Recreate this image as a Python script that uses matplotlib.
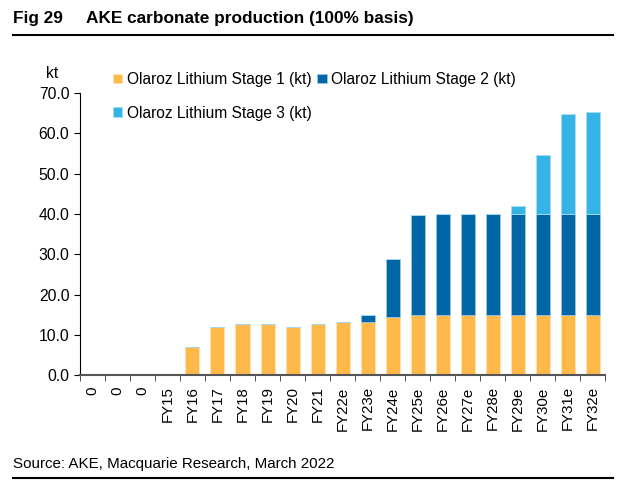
import matplotlib
matplotlib.use("Agg")
import matplotlib.pyplot as plt
from matplotlib.lines import Line2D

plt.rcParams['font.family'] = ['Liberation Sans', 'DejaVu Sans']

categories = ['0', '0', '0', 'FY15', 'FY16', 'FY17', 'FY18', 'FY19', 'FY20',
              'FY21', 'FY22e', 'FY23e', 'FY24e', 'FY25e', 'FY26e', 'FY27e',
              'FY28e', 'FY29e', 'FY30e', 'FY31e', 'FY32e']
stage1 = [0, 0, 0, 0.3, 6.9, 11.9, 12.6, 12.8, 11.9, 12.8, 13.3, 13.1, 14.4,
          15.0, 15.0, 15.0, 15.0, 15.0, 15.0, 15.0, 15.0]
stage2 = [0, 0, 0, 0, 0, 0, 0, 0, 0, 0, 0, 1.7, 14.5,
          24.8, 25.0, 25.0, 25.0, 25.0, 25.0, 25.0, 25.0]
stage3 = [0, 0, 0, 0, 0, 0, 0, 0, 0, 0, 0, 0, 0,
          0, 0, 0, 0, 1.9, 14.6, 24.8, 25.2]
series_names = ['Olaroz Lithium Stage 1 (kt)', 'Olaroz Lithium Stage 2 (kt)',
                'Olaroz Lithium Stage 3 (kt)']
colors = ['#FFB84A', '#0066A6', '#36B3E6']

fig = plt.figure(figsize=(6.24, 4.86), dpi=100)
ax = fig.add_axes([0.128, 0.228, 0.842, 0.581])

x = list(range(len(categories)))
w = 0.56
b1 = ax.bar(x, stage1, w, color=colors[0], edgecolor='#FFE3B5', linewidth=0.6)
b2 = ax.bar(x, stage2, w, bottom=stage1, color=colors[1], edgecolor='#9CC6E6', linewidth=0.6)
base3 = [a + b for a, b in zip(stage1, stage2)]
b3 = ax.bar(x, stage3, w, bottom=base3, color=colors[2], edgecolor='#A6DDF5', linewidth=0.6)

ax.set_xlim(-0.5, len(categories) - 0.5)
ax.set_ylim(0, 70)
ax.set_yticks(range(0, 71, 10))
ax.set_yticklabels([f'{v:.1f}' for v in range(0, 71, 10)], fontsize=11.3)
ax.set_xticks(x)
ax.set_xticklabels(categories, rotation=90, fontsize=10.8)
ax.tick_params(axis='x', length=0, pad=8)
ax.set_xticks([i - 0.5 for i in range(len(categories) + 1)], minor=True)
ax.tick_params(axis='x', which='minor', length=4, direction='out', color='#333333')
ax.tick_params(axis='y', length=4.5, direction='out', pad=3)
for s in ['top', 'right']:
    ax.spines[s].set_visible(False)
ax.spines['bottom'].set_color('#555555')
ax.spines['bottom'].set_linewidth(1.5)

fig.text(52 / 624, 1 - 73 / 486, 'kt', fontsize=11.3, ha='center', va='center')

handles = [b1, b3, b2]
labels = [series_names[0], series_names[2], series_names[1]]
fig.legend(handles, labels, ncol=2, loc='upper left',
           bbox_to_anchor=(113 / 624, 1 - 72 / 486),
           frameon=False, fontsize=11.2, handlelength=0.6, handleheight=0.6,
           handletextpad=0.3, columnspacing=0.35, labelspacing=1.2, borderpad=0,
           borderaxespad=0)

fig.text(13 / 624, 1 - 18 / 486, 'Fig 29', fontsize=12.4, fontweight='bold', va='center')
fig.text(86 / 624, 1 - 18 / 486, 'AKE carbonate production (100% basis)',
         fontsize=12.4, fontweight='bold', va='center')
fig.add_artist(Line2D([13 / 624, 613 / 624], [1 - 35 / 486, 1 - 35 / 486],
                      color='black', linewidth=1.5))
fig.text(13 / 624, 1 - 464 / 486, 'Source: AKE, Macquarie Research, March 2022',
         fontsize=10.9, va='center')
fig.add_artist(Line2D([13 / 624, 613 / 624], [1 - 478 / 486, 1 - 478 / 486],
                      color='black', linewidth=1.5))

fig.savefig('out.png', dpi=100)
